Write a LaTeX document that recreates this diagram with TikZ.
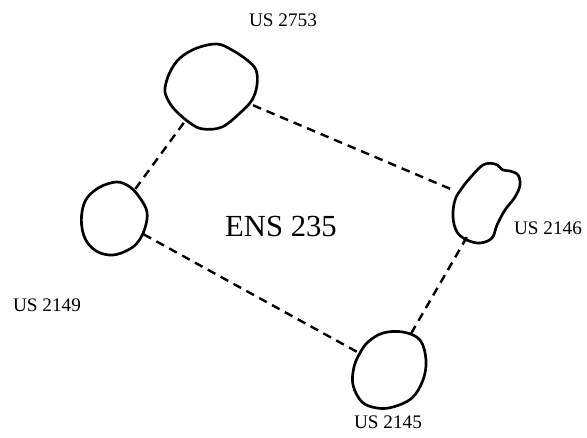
\documentclass[tikz,border=0pt]{standalone}
\usepackage{fontspec}
\setmainfont{Liberation Serif}
\usetikzlibrary{shapes.geometric}

\begin{document}
\begin{tikzpicture}[x=0.75pt, y=-0.75pt,
    site/.style={ellipse, inner sep=0pt, draw=none},
    blob/.style={line width=2pt, line join=round},
    link/.style={line width=1.8pt, dash pattern=on 6.5pt off 4.5pt},
    lbl/.style={font=\fontsize{14.4}{16}\selectfont, inner sep=0pt}]
\useasboundingbox (0,0) rectangle (587,437);

% sites (invisible ellipses, outlines drawn by hand below)
\node[site, minimum width=71pt, minimum height=64pt] (us2753) at (210,87) {};
\node[site, minimum width=49pt, minimum height=55pt] (us2149) at (114,218) {};
\node[site, minimum width=50pt, minimum height=60pt] (us2146) at (486,204) {};
\node[site, minimum width=55pt, minimum height=57pt] (us2145) at (390,370) {};

\draw[blob] plot[smooth cycle, tension=0.6] coordinates {
  (165,88) (170,72) (180,58) (197,48) (217,44) (232,50) (247,60) (256,70)
  (257,85) (252,100) (240,113) (222,127) (203,129) (190,123) (175,110) (167,98)};
\draw[blob] plot[smooth cycle, tension=0.6] coordinates {
  (117,182) (130,187) (140,198) (147,212) (145,228) (138,242) (128,250)
  (113,255) (98,252) (87,242) (82,228) (82,212) (87,198) (100,187)};
\draw[blob] plot[smooth cycle, tension=0.6] coordinates {
  (470,178) (483,165) (495,164) (503,170) (510,171) (518,175) (520,185)
  (515,197) (505,210) (497,225) (492,238) (480,243) (467,240) (457,232)
  (453,217) (455,200) (462,188)};
\draw[blob] plot[smooth cycle, tension=0.6] coordinates {
  (360,353) (368,342) (383,333) (403,332) (420,340) (426,360) (423,380)
  (412,398) (393,407) (377,408) (362,402) (353,385) (354,367)};

% dashed links
\draw[link] (us2753) -- (us2149);
\draw[link] (us2753) -- (us2146);
\draw[link] (us2149) -- (us2145);
\draw[link] (us2146) -- (us2145);

% labels
\node[lbl] (l2753) at (283,20) {US 2753};
\node[lbl] (l2149) at (47,305) {US 2149};
\node[lbl] (l2146) at (548,228) {US 2146};
\node[lbl] (l2145) at (388,422) {US 2145};
\node[font=\fontsize{23}{26}\selectfont, inner sep=0pt] (ens) at (281,226) {ENS 235};
\end{tikzpicture}
\end{document}
